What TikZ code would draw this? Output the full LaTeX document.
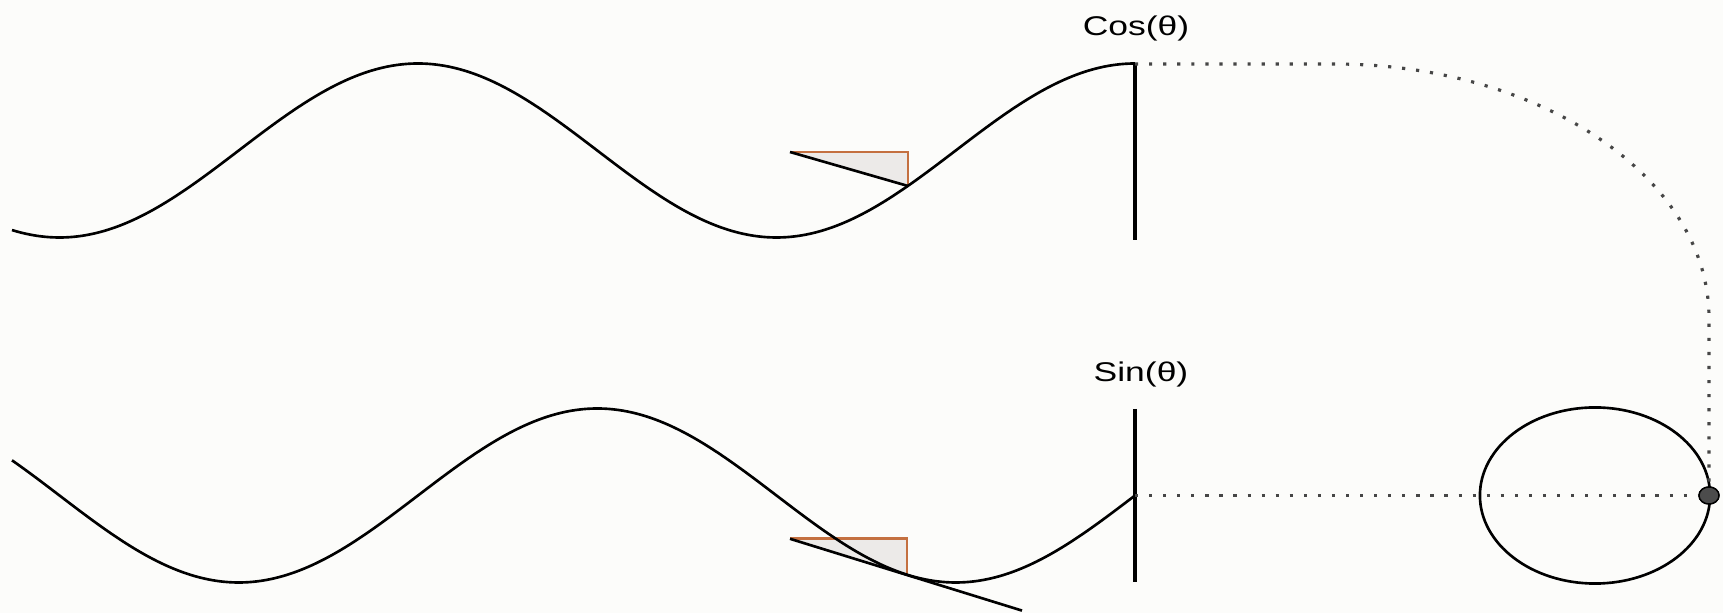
\documentclass[tikz,border=0pt]{standalone}
\usepackage{fontspec}
\setmainfont{Liberation Sans}
\usetikzlibrary{shapes.geometric, positioning}

\definecolor{paper}{RGB}{252,252,250}
\definecolor{triedge}{RGB}{196,112,64}
\definecolor{trifill}{RGB}{236,234,232}
\newcommand{\widetext}[1]{\scalebox{1.31}[1]{#1}}

\begin{document}
\begin{tikzpicture}[
    x=0.01cm, y=-0.01cm,
    wave/.style={line width=0.75pt, black},
    axisline/.style={line width=0.9pt, black},
    guide/.style={line width=0.9pt, gray!55!black, dash pattern=on 0.9pt off 3.1pt},
    slopetri/.style={fill=trifill, draw=triedge, line width=0.8pt},
    lbl/.style={font=\fontsize{7.7}{9}\selectfont, inner sep=0pt},
    wheel/.style={ellipse, draw, line width=0.75pt, minimum width=2.30cm,
                  minimum height=1.76cm, inner sep=0pt},
    marker/.style={ellipse, draw=black, fill=black!70, minimum width=0.2cm,
                   minimum height=0.17cm, inner sep=0pt}
]
  \fill[paper] (0,0) rectangle (1723,613);
  \useasboundingbox (0,0) rectangle (1723,613);

  % end points of the two traces
  \coordinate (cosTop) at (1135,64);
  \coordinate (cosBot) at (1135,240);
  \coordinate (sinTop) at (1135,409);
  \coordinate (sinBot) at (1135,582);
  \coordinate (sinMid) at (1135,495.5);

  % slope triangles
  \coordinate (ctA) at (790,152);
  \coordinate (ctB) at (908,152);
  \coordinate (ctC) at (908,186);
  \coordinate (stA) at (790,538.8);
  \coordinate (stB) at (907,538.8);
  \coordinate (stC) at (907,575);
  \coordinate (stD) at (1022,610.6);

  \fill[trifill] (ctA) -- (ctB) -- (ctC) -- cycle;
  \draw[slopetri, fill=none] (ctA) -- (ctB) -- (ctC);
  \draw[wave] (ctA) -- (ctC);
  \fill[trifill] (stA) -- (stB) -- (stC) -- cycle;
  \draw[slopetri, fill=none] (stA) -- (stB) -- (stC);
  \draw[wave] (stA) -- (stD);

  % cosine and sine traces
  \draw[wave] plot[domain=12:1135, samples=240, smooth]
    (\x, {150.5-87*cos((\x-1135)/717*360)});
  \draw[wave] plot[domain=12:1135, samples=240, smooth]
    (\x, {495.5-87*sin((\x-1135)/717*360)});

  \draw[axisline] (cosTop) -- (cosBot);
  \draw[axisline] (sinTop) -- (sinBot);

  \node[lbl] (cosLabel) at (1136,29) {\widetext{Cos(θ)}};
  \node[lbl] (sinLabel) at (1141,375) {\widetext{Sin(θ)}};

  % rotating point
  \node[wheel] (wheel) at (1595,495.5) {};
  \node[marker] (dot) at (1709,495.5) {};

  \draw[guide] (cosTop) -- (1334,64) .. controls (1541,64) and (1709,178) .. (1709,318) -- (dot.north);
  \draw[guide] (sinMid) -- (dot.west);
  \node[marker] at (dot) {};
\end{tikzpicture}
\end{document}
